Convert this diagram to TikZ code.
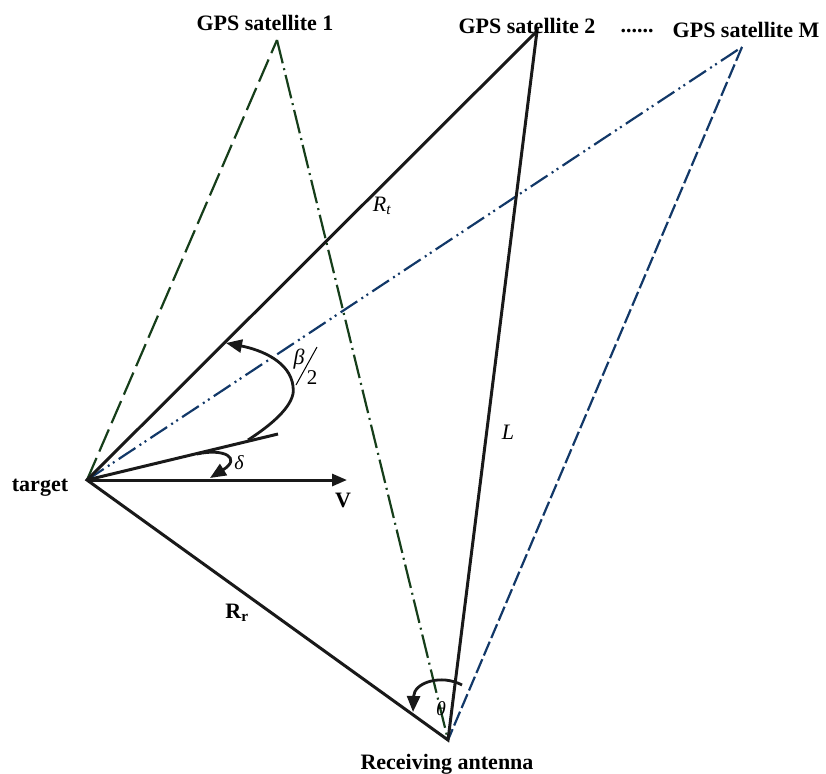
\documentclass[tikz,border=0pt]{standalone}
\usepackage{fontspec}
\setmainfont{Liberation Serif}
\usetikzlibrary{arrows.meta}
\definecolor{satgreen}{RGB}{22,62,26}
\definecolor{satblue}{RGB}{18,56,104}
\tikzset{
  ray/.style={line width=3pt, draw=black!90},
  satline/.style={line width=2.2pt},
  lbl/.style={font=\fontsize{22}{26}\selectfont\bfseries, inner sep=0pt},
  mlbl/.style={font=\fontsize{22}{26}\selectfont\itshape, inner sep=0pt},
  glbl/.style={font=\fontsize{20}{24}\selectfont\itshape, inner sep=0pt},
  angarr/.style={line width=2.8pt, draw=black!90, -{Triangle[length=16pt,width=13pt]}},
}
\begin{document}
\begin{tikzpicture}[x=1pt, y=-1pt]
\useasboundingbox (0,0) rectangle (826,773);
\coordinate (T) at (87,480);
\coordinate (S1) at (277,40);
\coordinate (S2) at (537,31);
\coordinate (SM) at (742,47);
\coordinate (A) at (448,740);
\coordinate (V) at (347,480);
\coordinate (D) at (278,434);
% satellite lines
\draw[satline, satgreen, dash pattern=on 24pt off 7pt] (T) -- (S1);
\draw[satline, satgreen, dash pattern=on 24pt off 5pt on 2pt off 5pt] (S1) -- (A);
\draw[satline, satblue, dash pattern=on 20pt off 5pt on 2pt off 4pt on 2pt off 5pt] (T) -- (SM);
\draw[satline, satblue, dash pattern=on 15pt off 4pt] (SM) -- (A);
% main triangle
\draw[ray] (T) -- (S2) -- (A) -- cycle;
\draw[ray, -{Triangle[length=15pt,width=12pt]}] (T) -- (V);
\draw[ray] (T) -- (D);
% angles
\draw[angarr] (248,440) .. controls (282,418) and (296,400) .. (293,386)
  .. controls (290,362) and (262,350) .. (226,343);
\draw[angarr] (197,454) .. controls (224,448) and (242,458) .. (210,478);
\draw[angarr] (462,685) .. controls (442,674) and (414,682) .. (413,712);
% labels
\node[lbl] (sat1) at (265,23) {GPS satellite 1};
\node[lbl] (sat2) at (527,26) {GPS satellite 2};
\node[lbl] (dots) at (637,31) {......};
\node[lbl] (satM) at (746,30) {GPS satellite M};
\node[lbl] (tgt) at (40,488) {target};
\node[lbl] (vel) at (343,500) {V};
\node[lbl] (Rr) at (237,613) {R\textsubscript{r}};
\node[lbl] (rx) at (447,764) {Receiving antenna};
\node[mlbl] (Rt) at (382,206) {R\textsubscript{t}};
\node[mlbl] (len) at (508,432) {L};
\node[glbl] (del) at (239,463) {δ};
\node[glbl] (th) at (441,709) {θ};
% beta over 2
\node[font=\fontsize{22}{24}\selectfont\itshape, inner sep=0pt] (beta) at (299,359) {β};
\node[font=\fontsize{21}{24}\selectfont, inner sep=0pt] (half) at (312,378) {2};
\coordinate (sl1) at (317,347);
\coordinate (sl2) at (296,385);
\draw[line width=1pt] (sl1) -- (sl2);
\end{tikzpicture}
\end{document}
